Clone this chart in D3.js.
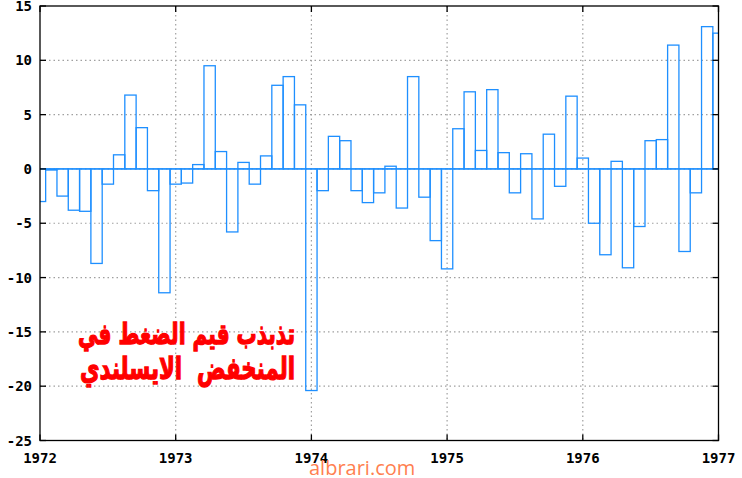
<!DOCTYPE html>
<html><head><meta charset="utf-8">
<script src="https://cdn.jsdelivr.net/npm/d3@7"></script>
<style>
html,body{margin:0;padding:0;background:#fff;}
svg{display:block;}
</style></head>
<body>
<svg id="chart" width="742" height="478"></svg>
<script>
// Monthly values, Jan 1972 .. Jan 1977
const startYear = 1972;
const values = [
  -3.0, -0.1, -2.5, -3.8, -3.9, -8.7, -1.4, 1.3, 6.8, 3.8, -2.0, -11.4,
  -1.4, -1.3, 0.4, 9.5, 1.6, -5.8, 0.6, -1.4, 1.2, 7.7, 8.5, 5.9,
  -20.4, -2.0, 3.0, 2.6, -2.0, -3.1, -2.2, 0.25, -3.6, 8.5, -2.6, -6.6,
  -9.2, 3.7, 7.1, 1.7, 7.3, 1.5, -2.2, 1.4, -4.6, 3.2, -1.6, 6.7,
  1.0, -5.0, -7.9, 0.7, -9.1, -5.3, 2.6, 2.7, 11.4, -7.6, -2.2, 13.1,
  12.5
];
const xTicks = [1972, 1973, 1974, 1975, 1976, 1977];
const yTicks = [-25, -20, -15, -10, -5, 0, 5, 10, 15];
const titleLines = ["تذبذب قيم الضغط في", "المنخفض  الايسلندي"];
const watermark = "albrari.com";

const svg = d3.select("#chart");
const L = 40, R = 718.5, T = 6, B = 440.5;
const x = d3.scaleLinear().domain([1972, 1977]).range([L, R]);
const y = d3.scaleLinear().domain([-25, 15]).range([B, T]);

svg.append("defs").append("clipPath").attr("id", "clip")
  .append("rect").attr("x", L).attr("y", T).attr("width", R - L).attr("height", B - T);

// grid
const grid = svg.append("g").attr("stroke", "#a0a0a0").attr("stroke-width", 1.2)
  .attr("stroke-dasharray", "1.5,3");
grid.selectAll(".gx").data(xTicks.slice(1, -1)).join("line")
  .attr("x1", d => x(d)).attr("x2", d => x(d)).attr("y1", T).attr("y2", B);
grid.selectAll(".gy").data(yTicks.slice(1, -1)).join("line")
  .attr("x1", L).attr("x2", R).attr("y1", d => y(d)).attr("y2", d => y(d));

// boxes
const monthW = x(startYear + 1 / 12) - x(startYear);
const bars = svg.append("g").attr("clip-path", "url(#clip)");
bars.selectAll("rect").data(values).join("rect")
  .attr("x", (d, i) => x(startYear + i / 12) - monthW / 2)
  .attr("width", monthW)
  .attr("y", d => y(Math.max(0, d)))
  .attr("height", d => Math.abs(y(d) - y(0)))
  .attr("fill", "none")
  .attr("stroke", "#1e8fff")
  .attr("stroke-width", 1.3);
bars.append("line").attr("x1", L).attr("x2", R).attr("y1", y(0)).attr("y2", y(0))
  .attr("stroke", "#1e8fff").attr("stroke-width", 1.3);

// border & ticks
const ax = svg.append("g").attr("stroke", "#000").attr("stroke-width", 1.3);
ax.append("rect").attr("x", L).attr("y", T).attr("width", R - L).attr("height", B - T).attr("fill", "none");
const tl = 6;
xTicks.forEach(d => {
  ax.append("line").attr("x1", x(d)).attr("x2", x(d)).attr("y1", B).attr("y2", B - tl);
  ax.append("line").attr("x1", x(d)).attr("x2", x(d)).attr("y1", T).attr("y2", T + tl);
});
yTicks.forEach(d => {
  ax.append("line").attr("x1", L).attr("x2", L + tl).attr("y1", y(d)).attr("y2", y(d));
  ax.append("line").attr("x1", R).attr("x2", R - tl).attr("y1", y(d)).attr("y2", y(d));
});

const font = "'DejaVu Sans Mono', monospace";
svg.append("g").selectAll("text").data(yTicks).join("text")
  .attr("x", 32).attr("y", d => y(d) + 5)
  .attr("text-anchor", "end")
  .attr("font-family", font).attr("font-weight", "bold").attr("font-size", 14)
  .text(d => String(d));
svg.append("g").selectAll("text").data(xTicks).join("text")
  .attr("x", d => x(d)).attr("y", 463)
  .attr("text-anchor", "middle")
  .attr("font-family", font).attr("font-weight", "bold").attr("font-size", 14)
  .text(d => String(d));

// Arabic annotation
const baselines = [344, 379];
const rightX = 295;
titleLines.forEach((t, i) => {
  const g = svg.append("g")
    .attr("transform", `translate(${rightX},${baselines[i]}) scale(1,1.45)`);
  const el = g.append("text")
    .attr("x", 0).attr("y", 0)
    .attr("text-anchor", "end")
    .style("white-space", "pre")
    .attr("font-family", "'DejaVu Sans', sans-serif").attr("font-weight", "bold")
    .attr("font-size", 26).attr("fill", "#ff0000")
    .attr("stroke", "#ff0000").attr("stroke-width", 0.9)
    .text(t);
  const w = el.node().getComputedTextLength();
  const target = i === 0 ? 217 : 215;
  el.attr("font-size", 26 * target / w);
});

// watermark
svg.append("text").attr("x", 309).attr("y", 475)
  .attr("font-family", "'Open Sans', sans-serif").attr("font-size", 20)
  .attr("fill", "#ff7f50").text(watermark);
</script>
</body></html>
